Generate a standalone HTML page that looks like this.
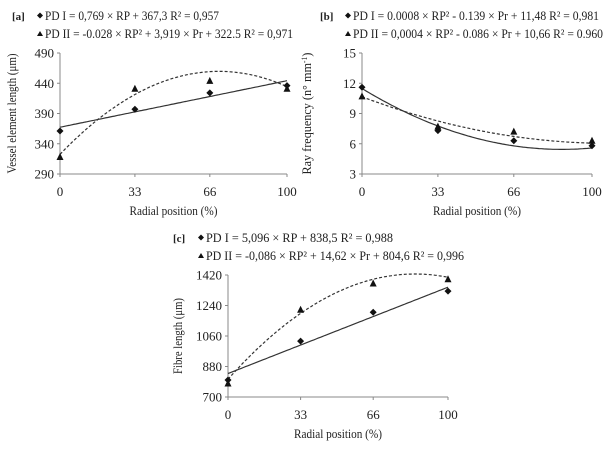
<!DOCTYPE html>
<html><head><meta charset="utf-8"><style>
html,body{margin:0;padding:0;background:#fff;}
svg{display:block;font-family:"Liberation Serif","Times New Roman",serif;}
text{fill:#222;}
</style></head><body>
<svg id="fig" width="615" height="453" viewBox="0 0 615 453" xmlns="http://www.w3.org/2000/svg"></svg>
<script>
const xCats = [0, 33, 66, 100];
// Panel a
const aTicks = [290, 340, 390, 440, 490];
const aPD1 = [361, 397, 424, 436];
const aPD2 = [318, 431, 444, 431];
const aFit1 = [0, 0.769, 367.3];   // [a2, a1, a0]
const aFit2 = [-0.028, 3.919, 322.5];
// Panel b
const bTicks = [3, 6, 9, 12, 15];
const bPD1 = [11.6, 7.3, 6.3, 5.8];
const bPD2 = [10.7, 7.7, 7.2, 6.3];
const bFit1 = [0.0008, -0.139, 11.48];
const bFit2 = [0.0004, -0.086, 10.66];
// Panel c
const cTicks = [700, 880, 1060, 1240, 1420];
const cPD1 = [800, 1030, 1200, 1325];
const cPD2 = [780, 1215, 1370, 1395];
const cFit1 = [0, 5.096, 838.5];
const cFit2 = [-0.086, 14.62, 804.6];

const NS = "http://www.w3.org/2000/svg";
const svg = document.getElementById('fig');
function el(tag, attrs, parent){
  const e = document.createElementNS(NS, tag);
  for (const k in attrs) e.setAttribute(k, attrs[k]);
  (parent||svg).appendChild(e);
  return e;
}
function txt(x,y,s,size,anchor,parent,extra){
  const t = el('text',{x:x,y:y,'font-size':size,'text-anchor':anchor||'start'},parent);
  if(extra) for(const k in extra) t.setAttribute(k,extra[k]);
  t.innerHTML = s;
  return t;
}
function panel(p){
  const g = el('g',{});
  
  
  const ymin = p.ticks[0], ymax = p.ticks[p.ticks.length-1];
  const X = v => p.x0 + (v/100)*(p.x1-p.x0);
  const Y = v => p.yb + (v-ymin)/(ymax-ymin)*(p.yt-p.yb);
  const ya = el('line',{x1:p.x0,y1:p.yt,x2:p.x0,y2:p.yb,stroke:'#888','stroke-width':1},g);
   
  const xa = el('line',{x1:p.x0,y1:p.yb,x2:p.x1,y2:p.yb,stroke:'#888','stroke-width':1},g);
   
  p.ticks.forEach(v=>{
    el('line',{x1:p.x0-3,y1:Y(v),x2:p.x0,y2:Y(v),stroke:'#888'},g);
    const t = txt(p.x0-6,Y(v)+4.5,String(v),13,'end',g);
     
  });
  xCats.forEach(v=>{
    el('line',{x1:X(v),y1:p.yb,x2:X(v),y2:p.yb+3,stroke:'#888'},g);
    const t = txt(X(v),p.yb+22,String(v),13,'middle',g);
     
  });
  const xt = txt((p.x0+p.x1)/2,p.yb+41,'Radial position (%)',12.5,'middle',g,{textLength:p.xtl,lengthAdjust:'spacingAndGlyphs'});
   
  const yt = txt(0,0,p.ytitle,12.5,'middle',g,{transform:`translate(${p.ytx},${(p.yt+p.yb)/2}) rotate(-90)`,textLength:p.ytl,lengthAdjust:'spacingAndGlyphs'});
   
  function curve(f,dash,name){
    let d='';
    for(let i=0;i<=100;i++){const v=f[0]*i*i+f[1]*i+f[2]; d+=(i?'L':'M')+X(i).toFixed(1)+' '+Y(v).toFixed(1);}
    const c = el('path',{d:d,fill:'none',stroke:'#333','stroke-width':1.2},g);
    if(dash) c.setAttribute('stroke-dasharray','3 2');
     
  }
  curve(p.fit1,false,'pd1-trendline');
  curve(p.fit2,true,'pd2-trendline');
  xCats.forEach((c,i)=>{
    const x=X(c), y=Y(p.pd1[i]);
    const m = el('path',{d:`M${x} ${y-3.5}L${x+3.5} ${y}L${x} ${y+3.5}L${x-3.5} ${y}Z`,fill:'#111'},g);
     
    const y2=Y(p.pd2[i]);
    const t = el('path',{d:`M${x} ${y2-4}L${x+3.5} ${y2+3}L${x-3.5} ${y2+3}Z`,fill:'#111'},g);
     
  });
  const lb = txt(p.lx-28,p.ly,'['+p.id+']',11,'start',g,{'font-weight':'bold'});
   
  const lx=p.lx, ly=p.ly;
  el('path',{d:`M${lx} ${ly-7.5}L${lx+3} ${ly-4.5}L${lx} ${ly-1.5}L${lx-3} ${ly-4.5}Z`,fill:'#111'},g);
  const l1 = txt(lx+5,ly,p.leg1,12.5,'start',g,{textLength:p.l1w,lengthAdjust:'spacingAndGlyphs'});
   
  el('path',{d:`M${lx} ${ly+11}L${lx+3} ${ly+16}L${lx-3} ${ly+16}Z`,fill:'#111'},g);
  const l2 = txt(lx+5,ly+18,p.leg2,12.5,'start',g,{textLength:p.l2w,lengthAdjust:'spacingAndGlyphs'});
   
}
panel({id:'a',x0:60,x1:287,yt:53,yb:174,ticks:aTicks,pd1:aPD1,pd2:aPD2,fit1:aFit1,fit2:aFit2,
  ytx:16,ytl:120,xtl:88,ytitle:'Vessel element length (μm)',lx:40,ly:20,l1w:174,l2w:248,
  leg1:'PD I = 0,769 × RP + 367,3 R² = 0,957',leg2:'PD II = -0.028 × RP² + 3,919 × Pr + 322.5 R² = 0,971'});
panel({id:'b',x0:362,x1:592,yt:53,yb:174,ticks:bTicks,pd1:bPD1,pd2:bPD2,fit1:bFit1,fit2:bFit2,
  ytx:311,ytl:122,xtl:88,ytitle:'Ray  frequency (n° mm<tspan baseline-shift="super" font-size="8">-1</tspan>)',lx:348,ly:20,l1w:246,l2w:250,
  leg1:'PD I = 0.0008 × RP² - 0.139 × Pr + 11,48 R² = 0,981',leg2:'PD II = 0,0004 × RP²  - 0.086 × Pr + 10,66 R² = 0.960'});
panel({id:'c',x0:228,x1:448,yt:275,yb:397,ticks:cTicks,pd1:cPD1,pd2:cPD2,fit1:cFit1,fit2:cFit2,
  ytx:182,ytl:76,xtl:88,ytitle:'Fibre length  (μm)',lx:201,ly:242,l1w:187,l2w:258,
  leg1:'PD I = 5,096 × RP  + 838,5 R² = 0,988',leg2:'PD II = -0,086 × RP²  + 14,62 × Pr + 804,6 R² = 0,996'});
</script>
</body></html>
